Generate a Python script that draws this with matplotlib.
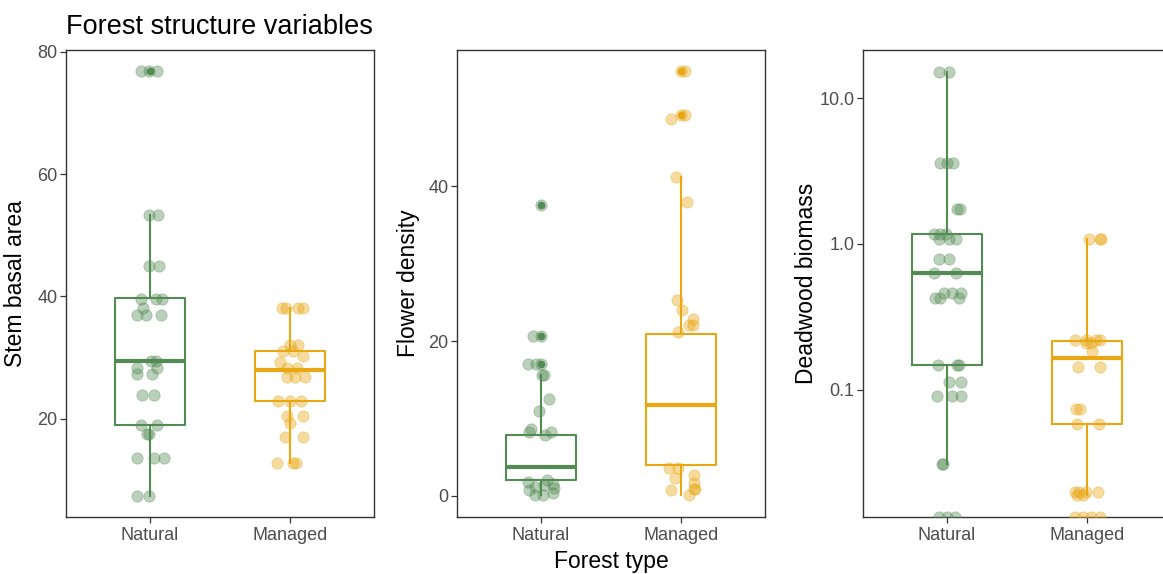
import numpy as np
import matplotlib
matplotlib.use('Agg')
import matplotlib.pyplot as plt

plt.rcParams['font.family'] = ['Liberation Sans', 'DejaVu Sans']

groups = ['Natural', 'Managed']
green = '#548B54'
orange = '#E8A713'

# ---- Stem basal area (jittered points: value, x offset) ----
basal_nat = [76.9, 76.9, 76.9, 53.3, 53.3, 44.9, 44.9, 39.6, 39.6, 39.6, 38.1,
             36.9, 36.9, 36.9, 29.4, 29.4, 28.3, 28.3, 27.3, 27.3, 23.8, 23.8,
             19.0, 19.0, 17.5, 17.5, 13.6, 13.6, 13.6, 7.4, 7.4]
basal_nat_dx = [-0.067, -0.007, 0.052, -0.007, 0.06, -0.007, 0.064, -0.067, 0.04, 0.088, -0.048,
                -0.09, -0.03, 0.076, 0.005, 0.04, -0.09, 0.052, -0.095, 0.017, -0.055, 0.029,
                -0.067, 0.052, -0.007, -0.02, -0.095, 0.029, 0.1, -0.09, -0.007]
basal_man = [38.1, 38.1, 38.1, 38.1, 32.0, 32.0, 31.0, 31.0, 30.3, 29.2, 28.3, 28.3,
             26.9, 26.9, 26.9, 22.95, 22.95, 22.95, 20.4, 20.4, 19.3, 17.0, 17.0,
             12.8, 12.8, 12.8]
basal_man_dx = [-0.06, -0.03, 0.06, 0.095, 0.0, 0.06, -0.048, 0.024, 0.095, -0.071, -0.024, 0.048,
                -0.024, 0.036, 0.107, -0.083, 0.0, 0.076, -0.024, 0.09, 0.0, -0.036, 0.09,
                -0.095, 0.024, 0.043]
# box stats: whislo, q1, median, q3, whishi
basal_box = [[7.4, 19.0, 29.4, 39.8, 53.3], [12.8, 22.9, 27.9, 31.0, 38.1]]
basal_fliers = [[76.9], []]

# ---- Flower density ----
flower_nat = [37.5, 20.6, 20.6, 17.0, 17.0, 17.0, 15.6, 15.6, 12.5, 11.0, 8.7, 8.2, 8.2, 7.9,
              1.85, 1.2, 1.4, 1.6, 0.77, 1.0, 0.13, 0.13, 0.39, 2.0]
flower_nat_dx = [0.0, -0.06, 0.0, -0.09, -0.036, 0.0, 0.005, 0.02, 0.055, -0.012, -0.07, -0.085, 0.07, 0.03,
                 -0.095, -0.04, 0.024, 0.083, -0.083, 0.095, -0.04, 0.012, 0.083, 0.04]
flower_man = [54.8, 54.8, 49.1, 49.1, 48.6, 41.2, 38.0, 25.3, 24.0, 22.8, 22.1, 22.1, 21.1,
              3.6, 3.6, 2.3, 2.7, 1.7, 0.77, 0.9, 0.9, 0.13]
flower_man_dx = [0.0, 0.03, 0.0, 0.03, -0.074, -0.036, 0.04, -0.03, 0.005, 0.088, 0.06, 0.088, -0.024,
                 -0.085, -0.025, -0.04, 0.09, 0.095, -0.07, 0.095, 0.1, 0.06]
flower_box = [[0.1, 2.06, 3.8, 7.87, 15.6], [0.1, 4.0, 11.7, 20.9, 41.2]]
flower_fliers = [[17.0, 20.6, 37.5], [49.1, 54.8]]

# ---- Deadwood biomass (0 = below log axis, drawn on the bottom edge) ----
dead_nat = [15.3, 15.3, 3.59, 3.59, 3.59, 1.74, 1.74, 1.17, 1.17, 1.17, 1.09, 1.09, 1.09,
            0.785, 0.785, 0.635, 0.635, 0.458, 0.458, 0.458, 0.423, 0.423, 0.423,
            0.147, 0.147, 0.147, 0.113, 0.113, 0.090, 0.090, 0.090, 0.031, 0.031, 0, 0, 0]
dead_nat_dx = [-0.06, 0.012, -0.052, 0.0, 0.043, 0.071, 0.095, -0.095, -0.047, -0.005, -0.06, 0.012, 0.066,
               -0.06, 0.012, -0.09, 0.066, -0.024, 0.036, 0.1, -0.083, -0.047, 0.088,
               -0.066, 0.071, 0.083, 0.012, 0.1, -0.071, 0.036, 0.1, -0.036, -0.03, -0.06, 0.0, 0.06]
dead_man = [1.09, 1.09, 1.09, 0.219, 0.219, 0.219, 0.219, 0.21, 0.21, 0.184, 0.142, 0.142,
            0.073, 0.073, 0.0577, 0.0577, 0.0199, 0.0199, 0.0199, 0.0199, 0.0188, 0.0188, 0, 0, 0, 0]
dead_man_dx = [0.014, 0.09, 0.1, -0.088, -0.01, 0.066, 0.09, 0.03, -0.005, 0.038, -0.064, 0.09,
               -0.076, -0.047, -0.071, 0.085, -0.088, -0.057, -0.005, 0.078, -0.071, -0.029,
               -0.088, -0.029, 0.03, 0.09]
dead_box = [[0.031, 0.147, 0.635, 1.17, 15.3], [0.0188, 0.0577, 0.164, 0.215, 1.09]]
dead_fliers = [[], []]

W, H = 1163, 574
fig = plt.figure(figsize=(W / 100, H / 100), dpi=100)


def make_axes(left_px):
    return fig.add_axes([left_px / W, (H - 517) / H, 308 / W, 467 / H])


def draw_panel(ax, points, offsets, boxes, fliers, ylabel, ylim, log=False):
    colors = [green, orange]
    for i in range(2):
        c = colors[i]
        wl, q1, med, q3, wh = boxes[i]
        stats = [dict(whislo=wl, q1=q1, med=med, q3=q3, whishi=wh, fliers=fliers[i])]
        ax.bxp(stats, positions=[i + 1], widths=0.5, showcaps=False,
               boxprops=dict(color=c, linewidth=1.5),
               whiskerprops=dict(color=c, linewidth=1.5),
               medianprops=dict(color=c, linewidth=3),
               flierprops=dict(marker='o', markerfacecolor=c, markeredgecolor=c,
                               markersize=4.5, alpha=1),
               zorder=2)
        y = np.array(points[i], dtype=float)
        if log:
            y = np.where(y > 0, y, ylim[0])
        x = (i + 1) + np.array(offsets[i])
        ax.scatter(x, y, s=66, color=c, alpha=0.4, edgecolors=c, linewidths=0.6, zorder=3)

    if log:
        ax.set_yscale('log')
    ax.set_ylim(*ylim)
    ax.set_xlim(0.4, 2.6)
    ax.set_xticks([1, 2])
    ax.set_xticklabels(groups)
    ax.set_ylabel(ylabel, fontsize=16.5, color='black')
    for s in ax.spines.values():
        s.set_color('#333333')
        s.set_linewidth(1.0)
    ax.tick_params(axis='both', colors='#333333', labelcolor='#4D4D4D', labelsize=13,
                   length=4, width=0.9)
    ax.tick_params(axis='x', pad=3)
    ax.tick_params(axis='y', pad=2)
    ax.minorticks_off()


ax1 = make_axes(66)
draw_panel(ax1, [basal_nat, basal_man], [basal_nat_dx, basal_man_dx], basal_box, basal_fliers,
           'Stem basal area', (3.93, 80.3))
ax1.set_yticks([20, 40, 60, 80])
ax1.yaxis.set_label_coords(-0.125, 0.5)

ax2 = make_axes(457)
draw_panel(ax2, [flower_nat, flower_man], [flower_nat_dx, flower_man_dx], flower_box, flower_fliers,
           'Flower density', (-2.71, 57.55))
ax2.set_yticks([0, 20, 40])
ax2.yaxis.set_label_coords(-0.12, 0.5)

ax3 = make_axes(863)
draw_panel(ax3, [dead_nat, dead_man], [dead_nat_dx, dead_man_dx], dead_box, dead_fliers,
           'Deadwood biomass', (10 ** -1.876, 10 ** 1.333), log=True)
ax3.set_yticks([0.1, 1.0, 10.0])
ax3.set_yticklabels(['0.1', '1.0', '10.0'])
ax3.minorticks_off()
ax3.yaxis.set_label_coords(-0.146, 0.5)

fig.text(66.5 / W, (H - 34.5) / H, 'Forest structure variables', fontsize=19.5,
         ha='left', va='baseline', color='black')
fig.text(611 / W, (H - 568) / H, 'Forest type', fontsize=16.5,
         ha='center', va='baseline', color='black')

fig.savefig('out.png', dpi=100)
